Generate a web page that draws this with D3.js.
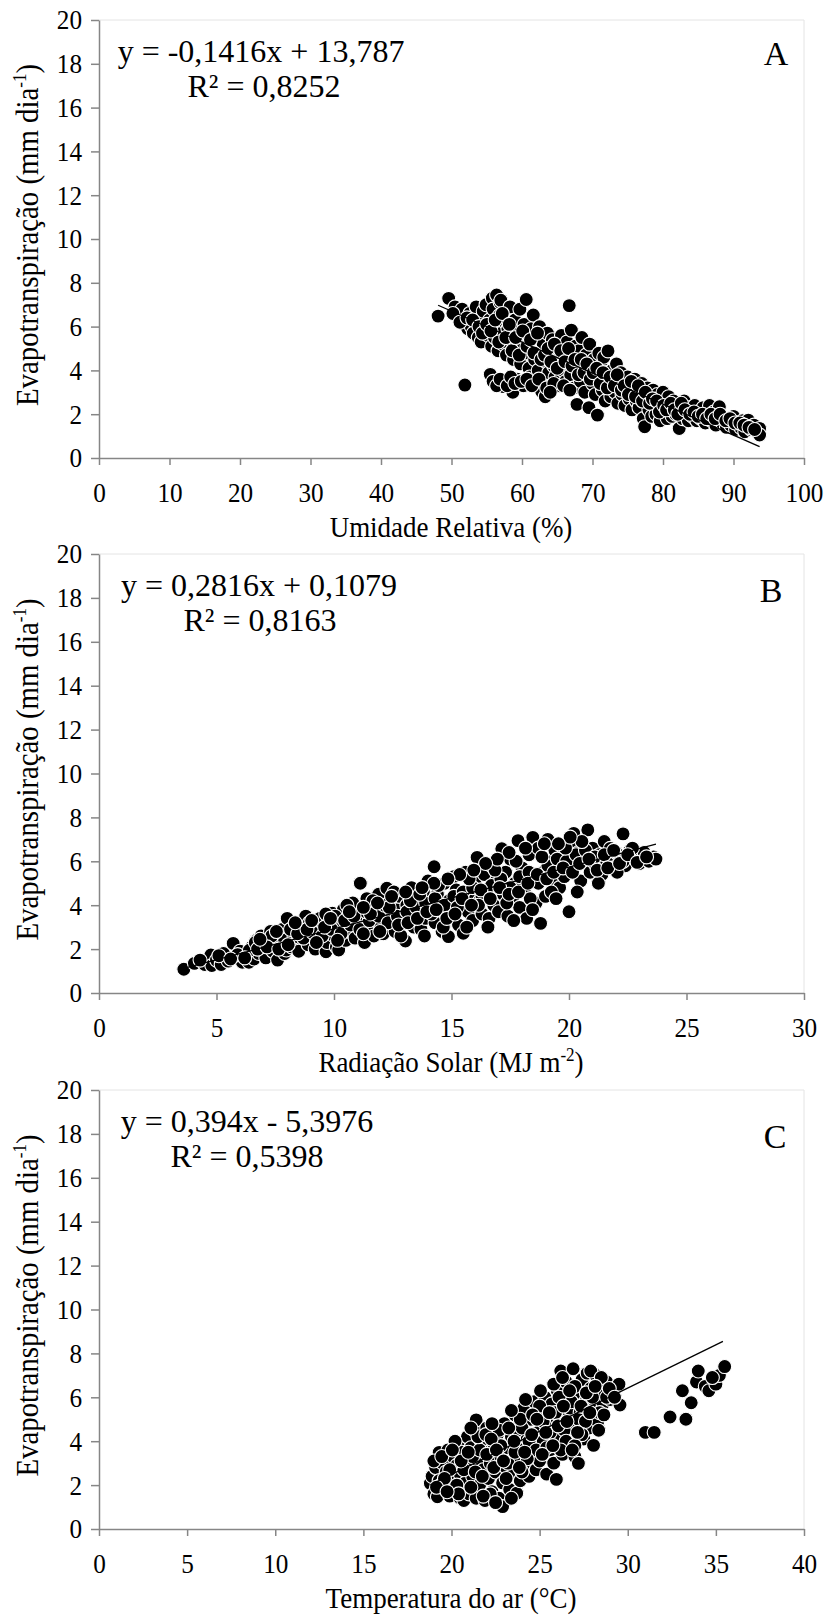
<!DOCTYPE html>
<html><head><meta charset="utf-8">
<script src="https://cdn.jsdelivr.net/npm/d3@7"></script>
<style>
html,body{margin:0;padding:0;background:#fff;}
svg{display:block;}
svg text{font-family:"Liberation Serif","Times New Roman",serif;}
</style></head>
<body>
<svg id="chart" width="831" height="1617"></svg>
<script>
// ---------------- DATA ----------------
const yTicks = [0,2,4,6,8,10,12,14,16,18,20];
const xTicksA = [0,10,20,30,40,50,60,70,80,90,100];
const xTicksB = [0,5,10,15,20,25,30];
const xTicksC = [0,5,10,15,20,25,30,35,40];

const xTitles = ["Umidade Relativa (%)", "Radiação Solar (MJ m", "Temperatura do ar (°C)"];
const panelLetters = ["A","B","C"];
const slopes = [-0.1416, 0.2816, 0.394];
const intercepts = [13.787, 0.1079, -5.3976];
const equations = ["y = -0,1416x + 13,787", "y = 0,2816x + 0,1079", "y = 0,394x - 5,3976"];
const r2Labels = ["R² = 0,8252", "R² = 0,8163", "R² = 0,5398"];
const fitRanges = [[48.1,93.7],[3.6,23.7],[18.8,35.4]];

// Panel A: Umidade relativa (%) vs ET (mm/dia)
const umidadeET = [
[48.1,6.48],[49.6,7.29],[50.5,6.9],[51.0,6.5],[51.5,6.8],[51.9,3.33],[52.0,6.2],[52.3,5.9],[52.6,6.6],[52.8,6.0],
[53.1,5.7],[53.3,6.4],[53.5,6.9],[53.8,5.5],[54.0,6.2],[54.2,5.3],[54.5,6.7],[54.7,5.9],[54.9,7.0],[55.2,5.6],
[55.4,6.3],[55.5,3.82],[55.7,5.1],[55.8,7.3],[55.9,6.8],[56.1,5.5],[56.3,6.0],[56.4,7.44],[56.6,4.9],[56.8,6.5],
[56.9,7.1],[57.0,7.2],[57.1,5.7],[57.3,5.2],[57.4,3.26],[57.6,6.2],[57.8,4.7],[58.0,5.9],[58.1,3.5],[58.3,6.9],
[58.5,5.4],[58.7,3.0],[58.8,4.5],[59.0,6.3],[59.2,5.0],[59.3,3.6],[59.5,5.8],[59.7,6.79],[59.8,4.3],[60.0,5.3],
[60.2,3.3],[60.3,6.1],[60.5,4.8],[60.6,7.24],[60.8,5.6],[61.0,4.1],[61.1,3.7],[61.3,5.9],[61.5,5.0],[61.6,6.53],
[61.8,4.5],[62.0,3.4],[62.1,5.4],[62.3,4.0],[62.5,6.0],[62.6,4.9],[62.8,3.03],[63.0,5.2],[63.1,3.6],[63.3,2.8],
[63.4,4.4],[63.6,5.7],[63.8,3.9],[64.0,4.8],[64.2,3.3],[64.3,5.4],[64.5,4.2],[64.7,3.7],[64.9,5.0],[65.1,4.5],
[65.3,3.3],[65.4,3.56],[65.6,5.6],[65.8,4.0],[66.0,4.8],[66.2,3.5],[66.4,5.3],[66.5,4.3],[66.7,6.96],[66.9,3.8],
[67.0,5.84],[67.2,4.6],[67.4,3.2],[67.6,5.1],[67.8,2.45],[67.9,4.0],[68.1,4.9],[68.3,3.5],[68.5,5.5],[68.7,4.3],
[68.9,3.0],[69.1,4.7],[69.3,3.8],[69.5,2.30],[69.6,5.2],[69.8,4.1],[70.0,3.4],[70.2,4.5],[70.4,2.9],[70.7,1.96],
[70.9,4.78],[71.0,3.7],[71.2,4.2],[71.4,3.1],[71.6,4.6],[71.8,2.6],[72.0,3.9],[72.2,4.89],[72.4,3.4],[72.6,2.8],
[72.8,4.0],[73.0,3.6],[73.2,3.0],[73.4,4.3],[73.6,2.5],[73.8,3.4],[74.0,3.9],[74.2,2.9],[74.4,3.5],[74.6,2.4],
[74.8,3.2],[75.0,3.7],[75.2,2.7],[75.4,3.3],[75.6,2.2],[75.8,3.0],[76.0,3.6],[76.2,2.6],[76.4,3.1],[76.6,2.3],
[76.8,2.9],[77.0,3.4],[77.2,1.8],[77.4,1.43],[77.6,2.6],[77.8,3.2],[78.0,2.2],[78.2,2.8],[78.4,1.9],[78.6,3.1],
[78.8,2.5],[79.0,2.0],[79.2,2.9],[79.4,2.3],[79.6,1.7],[79.8,2.7],[80.0,3.0],[80.2,2.1],[80.4,2.5],[80.6,1.8],
[80.8,2.8],[81.0,2.2],[81.3,1.9],[81.5,2.6],[81.8,2.0],[82.0,2.4],[82.3,1.35],[82.5,2.2],[82.8,1.8],[83.0,2.6],
[83.3,2.0],[83.6,1.7],[83.9,2.3],[84.2,1.9],[84.5,2.4],[84.8,1.7],[85.1,2.1],[85.4,1.8],[85.7,2.3],[86.0,1.6],
[86.3,2.0],[86.6,2.4],[86.9,1.7],[87.2,2.1],[87.5,1.5],[87.8,1.9],[88.0,2.34],[88.4,1.6],[88.7,1.8],[89.0,1.4],
[89.3,1.7],[89.6,1.5],[90.0,1.9],[90.3,1.3],[90.6,1.6],[91.0,1.4],[91.3,1.7],[91.6,1.2],[92.1,1.73],[92.5,1.3],
[92.9,1.5],[93.3,1.2],[93.7,1.35],[93.7,1.05],
[50.2,6.6],[51.2,6.2],[52.2,6.4],[53.0,6.3],[53.9,6.0],[54.4,5.7],[55.0,6.1],[55.6,5.8],[56.2,6.3],[56.7,5.3],
[57.2,6.6],[57.7,5.5],[58.2,6.1],[58.6,4.9],[59.1,5.5],[59.6,4.7],[60.1,5.8],[60.7,5.1],[61.2,5.4],[61.7,4.8],
[62.2,5.7],[62.7,4.5],[63.2,4.7],[63.7,5.0],[64.1,4.4],[64.6,5.2],[65.0,4.1],[65.5,4.9],[66.1,4.4],[66.6,5.0],
[67.1,4.2],[67.5,4.5],[68.0,3.8],[68.4,4.5],[68.8,3.9],[69.2,4.3],[69.7,3.6],[70.1,3.9],[70.6,4.1],[71.1,3.4],
[71.5,3.9],[72.1,3.2],[72.5,3.7],[73.1,3.3],[73.5,3.8],[74.1,3.1],[74.5,3.3],[75.1,2.9],[75.5,3.5],[76.1,2.8],
[76.5,3.3],[77.1,2.6],[77.5,3.0],[78.1,2.5],[78.5,2.7],[79.1,2.6],[79.5,2.1],[80.1,2.4],[80.5,2.2],[81.1,2.5],
[81.6,2.2],[82.1,2.0],[82.6,2.5],[83.1,2.2],[83.8,2.0],[84.4,2.1],[85.0,1.9],[85.6,2.0],[86.2,1.8],[86.8,2.0],
[87.4,1.8],[88.1,2.0],[88.9,1.7],[89.5,1.8],[90.2,1.6],[90.9,1.6],[91.5,1.5],[92.2,1.4],[93.0,1.3],
[55.9,3.5],[56.4,3.3],[56.9,3.6],[57.9,3.3],[58.4,3.7],[59.0,3.4],[59.9,3.5],[60.7,3.6],[61.4,3.3],[62.4,3.6],
[63.5,3.2],[64.5,3.4],[65.9,3.3],[66.8,3.1],[64.0,3.0]
];

// Panel B: Radiação solar (MJ m-2) vs ET
const radiacaoET = [
[3.61,1.08],[4.06,1.35],[4.5,1.3],[4.76,1.73],[4.8,1.25],[5.0,1.5],[5.2,1.3],[5.3,1.8],[5.5,1.45],[5.71,2.26],
[5.8,1.6],[6.0,1.9],[6.1,1.4],[6.3,1.7],[6.38,1.4],[6.5,2.1],[6.6,1.55],[6.7,2.4],[6.8,1.8],[6.9,2.6],
[7.0,2.0],[7.1,1.6],[7.2,2.3],[7.3,2.8],[7.4,1.9],[7.5,2.5],[7.6,1.5],[7.7,2.2],[7.8,2.9],[7.9,1.8],
[7.97,1.96],[8.01,3.4],[8.1,2.6],[8.2,2.1],[8.3,3.0],[8.4,2.4],[8.5,1.9],[8.6,2.8],[8.7,3.3],[8.8,3.5],
[8.9,2.2],[9.0,2.7],[9.1,3.1],[9.2,2.0],[9.3,2.5],[9.4,3.4],[9.5,2.9],[9.66,1.88],[9.7,2.3],[9.8,3.2],
[9.93,3.63],[10.0,2.6],[10.1,2.1],[10.2,1.96],[10.3,3.0],[10.4,3.8],[10.5,2.4],[10.6,3.4],[10.7,2.8],[10.8,4.1],
[10.9,2.5],[11.0,3.2],[11.12,5.0],[11.2,3.6],[11.3,2.3],[11.4,4.3],[11.5,2.9],[11.6,3.9],[11.7,2.6],[11.8,3.3],
[11.9,4.5],[12.0,3.0],[12.1,2.7],[12.25,4.77],[12.3,3.6],[12.4,4.1],[12.5,3.1],[12.6,2.8],[12.7,3.8],[12.8,4.4],
[12.9,3.3],[13.04,2.37],[13.1,4.0],[13.2,3.5],[13.3,4.8],[13.4,3.0],[13.5,4.3],[13.6,3.7],[13.7,2.9],[13.8,4.6],
[13.9,3.4],[14.0,5.1],[14.1,4.0],[14.26,5.75],[14.3,3.2],[14.4,4.5],[14.5,3.8],[14.6,2.8],[14.7,5.0],[14.87,2.57],
[14.9,4.2],[15.0,3.5],[15.1,5.3],[15.2,4.7],[15.3,3.1],[15.4,4.0],[15.5,2.72],[15.6,5.5],[15.7,3.7],[15.8,4.4],
[15.9,3.3],[16.0,5.0],[16.09,6.18],[16.2,4.2],[16.3,3.6],[16.4,5.4],[16.5,4.7],[16.6,3.4],[16.7,5.8],[16.8,4.0],
[16.9,5.1],[17.0,3.7],[17.14,6.57],[17.2,4.5],[17.3,5.5],[17.4,3.5],[17.5,6.1],[17.6,4.3],[17.7,5.0],[17.83,6.94],
[17.9,3.9],[18.0,5.7],[18.1,4.6],[18.2,3.4],[18.3,6.3],[18.46,7.09],[18.5,5.2],[18.6,4.1],[18.7,6.6],[18.79,3.17],
[18.9,5.5],[19.0,4.4],[19.1,7.0],[19.2,6.0],[19.3,5.0],[19.4,6.5],[19.5,5.6],[19.6,4.8],[19.7,6.2],[19.8,5.3],
[20.0,3.7],[20.1,6.8],[20.2,7.27],[20.3,5.8],[20.4,6.4],[20.5,5.1],[20.6,6.0],[20.8,7.43],[20.9,5.5],[21.0,6.6],
[21.1,5.9],[21.3,6.3],[21.4,5.4],[21.5,6.9],[21.6,6.0],[21.76,6.59],[21.9,5.7],[22.0,6.4],[22.2,6.1],[22.3,7.25],
[22.4,5.8],[22.6,6.5],[22.8,6.2],[23.0,5.9],[23.2,6.4],[23.4,6.0],[23.6,6.2],[23.7,6.1],
[5.9,1.75],[6.4,1.95],[6.9,2.1],[7.4,2.35],[7.9,2.4],[8.3,2.55],[8.7,2.5],[9.1,2.75],[9.5,2.6],[9.9,2.9],
[10.3,2.7],[10.7,3.1],[11.1,2.9],[11.5,3.3],[11.9,3.5],[12.3,3.2],[12.7,3.5],[13.1,3.7],[13.5,3.9],[13.9,4.1],
[14.3,4.3],[14.7,4.0],[15.1,4.4],[15.5,4.6],[15.9,4.8],[16.3,4.4],[16.7,4.9],[17.1,5.2],[17.5,4.8],[17.9,5.3],
[18.3,5.5],[18.7,5.0],[19.1,5.8],[19.5,6.1],[19.9,6.0],[20.3,6.3],[20.7,6.5],[21.1,6.2],[21.5,6.3],[21.9,6.5],
[22.3,6.0],[22.7,6.6],[10.05,3.5],[11.35,3.7],[12.15,4.0],[13.25,4.2],[14.15,3.6],[15.25,3.9],[16.15,4.0],[17.35,4.1],
[18.35,4.3],[19.25,4.6],[14.45,4.9],[15.75,5.2],[16.85,5.6],[17.75,6.0],[18.85,6.2],[19.85,6.6],[20.55,6.9],[13.65,4.5],
[12.55,4.6],[11.65,4.2],[10.55,4.0],[9.65,3.6],[8.95,3.2],[8.15,2.9],[7.35,2.6],[6.65,2.3],[12.85,2.6],[13.85,2.6],
[14.65,3.0],[15.65,3.0],[16.55,3.0],[17.65,3.3],[18.45,3.8],[19.45,4.3],[20.35,4.6],[21.25,5.0],[22.05,5.5],
[4.3,1.5],[5.1,1.7],[5.6,1.55],[6.2,1.6],[6.75,2.0],[7.15,2.1],[7.65,2.0],[8.05,2.2],[8.45,2.7],[8.85,2.9],
[9.25,2.3],[9.6,3.0],[10.15,2.4],[10.45,3.3],[10.85,3.5],[11.25,2.7],[11.55,3.6],[11.95,2.8],[12.35,3.9],[12.75,3.1],
[13.15,3.2],[13.55,3.4],[13.95,3.7],[14.35,3.8],[14.8,3.4],[15.15,3.6],[15.45,4.3],[15.85,4.0],[16.25,4.7],[16.65,4.3],
[17.05,4.8],[17.45,4.5],[17.85,4.6],[18.25,5.0],[18.65,5.4],[19.05,5.2],[19.35,5.5],[19.75,5.7],[20.15,5.5],[20.45,5.9],
[20.85,6.1],[21.2,5.6],[21.65,5.7],[22.15,5.9],[22.5,6.3],[22.9,5.95],[23.3,6.2],[20.05,7.1],[19.55,6.8],[18.95,6.8],
[18.15,6.6],[17.45,6.4],[16.95,6.1],[16.45,5.9],[15.95,5.6],[15.35,5.4],[14.85,5.2],[14.25,5.0],[13.75,4.8],[13.05,4.6],
[12.45,4.4],[11.85,4.1],[11.25,3.9],[10.65,3.7],[9.85,3.4],[9.05,3.3],[8.35,3.2],[7.55,2.8],[6.85,2.45]
];

// Panel C: Temperatura do ar (°C) vs ET
const temperaturaET = [
[18.8,2.08],[18.9,2.4],[19.0,1.6],[19.1,2.8],[19.2,1.47],[19.3,3.49],[19.3,2.2],[19.5,3.0],[19.6,1.9],[19.7,2.6],
[19.8,3.6],[19.9,1.5],[20.0,2.3],[20.1,3.3],[20.2,1.8],[20.3,2.9],[20.4,3.9],[20.5,1.4],[20.5,2.5],[20.6,3.5],
[20.7,1.3],[20.8,2.1],[20.9,4.2],[21.0,2.8],[21.0,1.6],[21.1,3.7],[21.2,2.4],[21.3,4.5],[21.4,4.97],[21.4,1.4],
[21.5,3.1],[21.6,2.0],[21.7,4.0],[21.8,2.7],[21.9,3.5],[21.9,1.3],[22.0,4.6],[22.1,2.3],[22.2,3.0],[22.3,1.7],
[22.4,3.9],[22.5,2.6],[22.6,4.3],[22.7,1.4],[22.8,3.3],[22.9,1.02],[22.9,2.1],[23.0,4.8],[23.1,2.8],[23.2,3.7],
[23.3,1.8],[23.4,4.2],[23.5,2.5],[23.6,5.2],[23.7,1.63],[23.7,3.2],[23.8,4.5],[23.9,2.2],[24.0,3.8],[24.1,5.5],
[24.2,2.9],[24.3,4.1],[24.4,2.4],[24.5,5.0],[24.6,3.4],[24.7,5.8],[24.8,2.7],[24.9,4.4],[25.0,3.1],[25.1,5.4],
[25.2,4.0],[25.3,6.0],[25.4,2.5],[25.5,4.7],[25.6,3.6],[25.7,5.7],[25.8,3.0],[25.95,2.26],[26.0,6.3],[26.1,4.3],
[26.2,7.2],[26.3,3.4],[26.4,5.1],[26.5,6.7],[26.6,3.9],[26.7,5.5],[26.8,4.6],[26.9,7.3],[27.0,3.3],[27.1,6.0],
[27.2,2.99],[27.3,5.3],[27.4,6.8],[27.5,4.1],[27.6,5.8],[27.7,7.1],[27.8,4.6],[27.9,6.4],[28.06,3.81],[28.1,5.5],
[28.2,7.0],[28.3,4.9],[28.4,6.2],[28.6,5.7],[28.8,6.7],[29.0,5.9],[29.2,6.4],[29.56,5.65],[29.5,6.6],
[19.4,2.0],[19.9,2.7],[20.3,2.0],[20.8,3.0],[21.2,3.3],[21.6,3.6],[22.0,3.4],[22.4,2.8],[22.8,3.8],[23.2,3.0],
[23.6,3.5],[24.0,4.6],[24.4,4.0],[24.8,3.6],[25.2,4.9],[25.6,4.4],[26.0,5.0],[26.4,4.5],[26.8,5.8],[27.2,5.0],
[27.6,4.9],[28.0,6.0],[28.4,5.3],[28.8,6.0],[20.2,4.0],[21.5,4.2],[22.7,4.5],[23.9,5.0],[25.0,5.6],[26.1,6.0],
[27.0,6.5],[24.3,3.2],[25.4,3.7],[26.5,4.0],[27.4,4.3],[21.1,1.9],[22.2,1.6],[23.1,2.3],[24.0,2.6],[20.4,1.6],
[21.8,1.5],[23.4,1.4],[22.5,1.2],[19.6,2.3],[20.7,2.7],[25.8,6.6],[26.7,6.3],[27.9,7.2],[28.5,6.9],[24.6,5.2],
[25.9,5.3],[26.2,3.6],[27.0,3.8],
[19.0,3.1],[19.45,3.3],[19.15,1.9],[19.75,1.7],[20.05,3.6],[20.55,3.1],[20.95,3.5],[21.35,2.6],[21.75,2.4],[21.95,4.3],
[22.25,4.1],[22.55,3.6],[22.95,3.1],[23.25,4.6],[23.55,4.0],[23.85,2.8],[24.15,3.5],[24.55,4.3],[24.85,5.0],[25.15,3.4],
[25.35,4.4],[25.55,5.3],[25.75,3.8],[26.05,4.7],[26.35,5.6],[26.55,4.9],[26.85,3.6],[27.15,4.4],[27.35,5.6],[27.65,6.2],
[27.85,5.3],[28.15,6.5],[28.35,4.5],[28.65,5.2],[28.95,6.4],[29.25,6.0],[24.2,5.9],[25.05,6.3],[26.3,6.9],[23.4,5.4],
[22.3,4.8],[21.1,4.6],
[31.0,4.4],[31.5,4.4],[32.4,5.1],[33.3,5.0],[33.1,6.3],[33.6,5.75],[33.9,6.7],[34.0,7.2],[34.4,6.5],[34.6,6.3],
[35.0,6.6],[35.2,7.0],[35.5,7.4],[34.8,6.9]
];

// ---------------- LAYOUT ----------------
const FONT = '"Liberation Serif","Times New Roman",serif';
const SX = 0.9; // horizontal condensing of axis texts
const svg = d3.select("#chart");
const left = 99, right = 804;
const panels = [
  {top: 20,   bottom: 458,  xmax: 100, xticks: xTicksA, data: umidadeET,     eqX: 261, r2X: 264, letterX: 776, letterDy: 45},
  {top: 554,  bottom: 993,  xmax: 30,  xticks: xTicksB, data: radiacaoET,    eqX: 259, r2X: 260, letterX: 771, letterDy: 48},
  {top: 1090, bottom: 1529, xmax: 40,  xticks: xTicksC, data: temperaturaET, eqX: 247, r2X: 247, letterX: 775, letterDy: 58}
];
const axisColor = "#868686";

panels.forEach((p, i) => {
  const g = svg.append("g").attr("font-family", FONT);
  const x = d3.scaleLinear().domain([0, p.xmax]).range([left, right]);
  const y = d3.scaleLinear().domain([0, 20]).range([p.bottom, p.top]);

  g.append("path")
    .attr("d", `M${left},${y(20)}H${x(p.xmax)}V${y(0)}`)
    .attr("fill", "none").attr("stroke", "#e4e4e4").attr("stroke-width", 1);

  const ya = g.append("g").attr("transform", `translate(${left},0)`)
    .call(d3.axisLeft(y).tickValues(yTicks).tickSize(8).tickSizeOuter(0).tickPadding(9).tickFormat(d3.format("d")));
  const xa = g.append("g").attr("transform", `translate(0,${p.bottom})`)
    .call(d3.axisBottom(x).tickValues(p.xticks).tickSize(7).tickSizeOuter(0).tickPadding(17).tickFormat(d3.format("d")));
  [ya, xa].forEach(a => {
    a.attr("font-family", FONT).attr("font-size", 28);
    a.select(".domain").attr("stroke", axisColor).attr("stroke-width", 1.5);
    a.selectAll(".tick line").attr("stroke", axisColor).attr("stroke-width", 1.5);
    a.selectAll(".tick text").attr("fill", "#000").attr("font-family", FONT).attr("font-size", 28)
      .attr("transform", `scale(${SX},1)`);
  });
  ya.selectAll(".tick text").attr("x", -17 / SX);

  // points
  g.append("g").selectAll("circle").data(p.data).join("circle")
    .attr("cx", d => x(d[0])).attr("cy", d => y(d[1]))
    .attr("r", 7).attr("fill", "#000").attr("stroke", "#fff").attr("stroke-width", 1.1);

  // trend line
  const fr = fitRanges[i];
  g.append("line")
    .attr("x1", x(fr[0])).attr("y1", y(slopes[i]*fr[0] + intercepts[i]))
    .attr("x2", x(fr[1])).attr("y2", y(slopes[i]*fr[1] + intercepts[i]))
    .attr("stroke", "#000").attr("stroke-width", 1.3);

  // equation and R²
  g.append("text").attr("x", p.eqX).attr("y", p.top + 42).attr("text-anchor", "middle")
    .attr("font-family", FONT).attr("font-size", 32).text(equations[i]);
  g.append("text").attr("x", p.r2X).attr("y", p.top + 77).attr("text-anchor", "middle")
    .attr("font-family", FONT).attr("font-size", 32).text(r2Labels[i]);
  g.append("text").attr("x", p.letterX).attr("y", p.top + p.letterDy).attr("text-anchor", "middle")
    .attr("font-family", FONT).attr("font-size", 34).text(panelLetters[i]);

  // y title
  const yt = g.append("text")
    .attr("transform", `translate(38,${(p.top + p.bottom)/2 - 4}) rotate(-90) scale(${SX},1)`)
    .attr("text-anchor", "middle").attr("font-family", FONT).attr("font-size", 32);
  yt.append("tspan").text("Evapotranspiração (mm dia");
  yt.append("tspan").attr("dy", -12).attr("font-size", 19).text("-1");
  yt.append("tspan").attr("dy", 12).text(")");

  // x title
  const xt = g.append("text")
    .attr("transform", `translate(451,${p.bottom + 79}) scale(${SX},1)`)
    .attr("text-anchor", "middle").attr("font-family", FONT).attr("font-size", 30);
  if (i === 1) {
    xt.append("tspan").text(xTitles[i]);
    xt.append("tspan").attr("dy", -11).attr("font-size", 19).text("-2");
    xt.append("tspan").attr("dy", 11).text(")");
  } else {
    xt.text(xTitles[i]);
  }
});
</script>
</body></html>
